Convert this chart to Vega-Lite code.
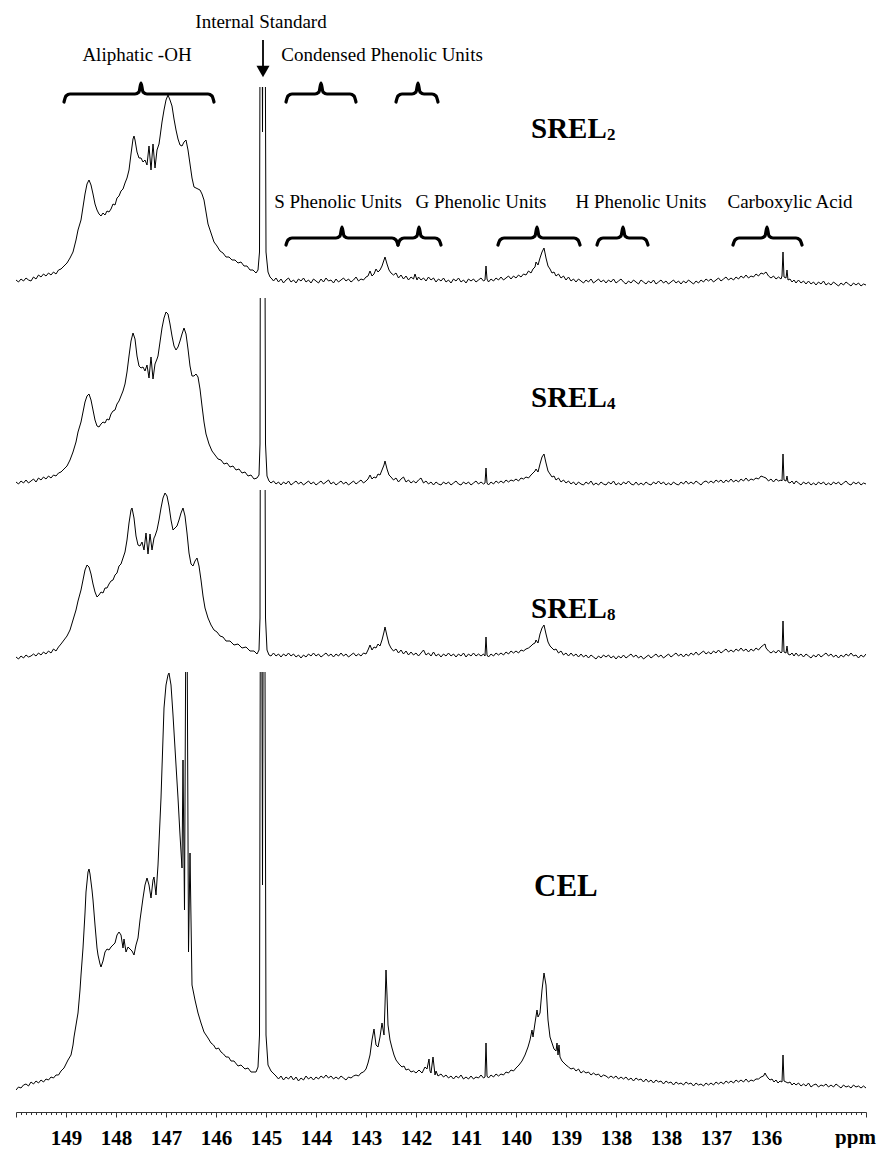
{
"$schema": "https://vega.github.io/schema/vega-lite/v6.json",
"padding": {"left": 15, "right": 12, "top": 0, "bottom": 0},
"bounds": "flush",
"spacing": 0,
"background": "white",
"config": {"view": {"stroke": null}, "font": "Liberation Serif"},
"datasets": {
"srel2": [
{"x":150,"y":2},{"x":149.95,"y":0},{"x":149.9,"y":3},{"x":149.85,"y":1},{"x":149.8,"y":4},{"x":149.75,"y":2},{"x":149.7,"y":1},{"x":149.65,"y":5},{"x":149.6,"y":3},{"x":149.55,"y":7},{"x":149.5,"y":5},{"x":149.45,"y":8},{"x":149.4,"y":6},{"x":149.35,"y":9},{"x":149.3,"y":7},{"x":149.25,"y":10},{"x":149.2,"y":8},{"x":149.15,"y":12},{"x":149.1,"y":13},{"x":149.04,"y":16},{"x":148.98,"y":19},{"x":148.92,"y":24},{"x":148.86,"y":30},{"x":148.8,"y":42},{"x":148.76,"y":52},{"x":148.7,"y":62},{"x":148.66,"y":75},{"x":148.62,"y":88},{"x":148.58,"y":98},{"x":148.54,"y":102},{"x":148.5,"y":97},{"x":148.46,"y":88},{"x":148.42,"y":78},{"x":148.38,"y":72},{"x":148.34,"y":68},{"x":148.3,"y":66},{"x":148.26,"y":69},{"x":148.22,"y":67},{"x":148.18,"y":71},{"x":148.14,"y":70},{"x":148.1,"y":73},{"x":148.06,"y":78},{"x":148.02,"y":77},{"x":147.98,"y":84},{"x":147.94,"y":86},{"x":147.9,"y":91},{"x":147.86,"y":93},{"x":147.82,"y":99},{"x":147.78,"y":104},{"x":147.74,"y":112},{"x":147.7,"y":128},{"x":147.66,"y":143},{"x":147.64,"y":146},{"x":147.62,"y":142},{"x":147.58,"y":130},{"x":147.54,"y":124},{"x":147.5,"y":124},{"x":147.46,"y":120},{"x":147.42,"y":122},{"x":147.38,"y":117},{"x":147.34,"y":136},{"x":147.3,"y":112},{"x":147.26,"y":138},{"x":147.22,"y":114},{"x":147.18,"y":132},{"x":147.14,"y":138},{"x":147.12,"y":145},{"x":147.08,"y":160},{"x":147.04,"y":172},{"x":147,"y":182},{"x":146.96,"y":187},{"x":146.92,"y":182},{"x":146.88,"y":176},{"x":146.84,"y":163},{"x":146.8,"y":152},{"x":146.76,"y":143},{"x":146.72,"y":137},{"x":146.68,"y":136},{"x":146.64,"y":140},{"x":146.6,"y":142},{"x":146.56,"y":132},{"x":146.52,"y":118},{"x":146.48,"y":104},{"x":146.44,"y":95},{"x":146.4,"y":94},{"x":146.36,"y":93},{"x":146.32,"y":92},{"x":146.28,"y":88},{"x":146.24,"y":82},{"x":146.2,"y":70},{"x":146.16,"y":58},{"x":146.1,"y":49},{"x":146.04,"y":40},{"x":145.98,"y":36},{"x":145.92,"y":31},{"x":145.86,"y":29},{"x":145.8,"y":25},{"x":145.74,"y":25},{"x":145.68,"y":22},{"x":145.62,"y":22},{"x":145.56,"y":19},{"x":145.5,"y":20},{"x":145.44,"y":16},{"x":145.38,"y":16},{"x":145.32,"y":12},{"x":145.26,"y":12},{"x":145.2,"y":9},{"x":145.16,"y":12},{"x":145.13,"y":30},{"x":145.1,"y":600},{"x":145.07,"y":150},{"x":145.04,"y":600},{"x":145,"y":30},{"x":144.96,"y":10},{"x":144.92,"y":5},{"x":144.88,"y":3},
{"x":144.85,"y":1},{"x":144.8,"y":4},{"x":144.75,"y":0},{"x":144.7,"y":3},{"x":144.65,"y":-1},{"x":144.6,"y":2},{"x":144.55,"y":4},{"x":144.5,"y":0},{"x":144.45,"y":2},{"x":144.4,"y":-1},{"x":144.35,"y":3},{"x":144.3,"y":1},{"x":144.25,"y":4},{"x":144.2,"y":0},{"x":144.15,"y":2},{"x":144.1,"y":-1},{"x":144.05,"y":3},{"x":144,"y":1},{"x":143.95,"y":-1},{"x":143.9,"y":3},{"x":143.85,"y":0},{"x":143.8,"y":4},{"x":143.75,"y":1},{"x":143.7,"y":2},{"x":143.65,"y":-1},{"x":143.6,"y":3},{"x":143.55,"y":0},{"x":143.5,"y":2},{"x":143.45,"y":4},{"x":143.4,"y":1},{"x":143.35,"y":3},{"x":143.3,"y":0},{"x":143.25,"y":2},{"x":143.2,"y":5},{"x":143.15,"y":1},{"x":143.1,"y":3},{"x":143.05,"y":2},{"x":143,"y":5},{"x":142.96,"y":6},{"x":142.92,"y":11},{"x":142.88,"y":6},{"x":142.84,"y":8},{"x":142.8,"y":13},{"x":142.76,"y":10},{"x":142.72,"y":12},{"x":142.68,"y":16},{"x":142.64,"y":22},{"x":142.62,"y":25},{"x":142.58,"y":18},{"x":142.54,"y":12},{"x":142.5,"y":9},{"x":142.45,"y":7},{"x":142.4,"y":9},{"x":142.35,"y":4},{"x":142.3,"y":7},{"x":142.25,"y":3},{"x":142.2,"y":6},{"x":142.15,"y":2},{"x":142.1,"y":5},{"x":142.05,"y":3},{"x":142.02,"y":8},{"x":141.98,"y":2},{"x":141.95,"y":5},{"x":141.9,"y":2},{"x":141.85,"y":4},{"x":141.8,"y":1},{"x":141.75,"y":5},{"x":141.7,"y":2},{"x":141.65,"y":4},{"x":141.6,"y":0},{"x":141.55,"y":3},{"x":141.5,"y":1},{"x":141.45,"y":4},{"x":141.4,"y":0},{"x":141.35,"y":2},{"x":141.3,"y":-1},{"x":141.25,"y":3},{"x":141.2,"y":1},{"x":141.15,"y":4},{"x":141.1,"y":0},{"x":141.05,"y":2},{"x":141,"y":-1},{"x":140.95,"y":3},{"x":140.9,"y":1},{"x":140.85,"y":3},{"x":140.8,"y":0},{"x":140.75,"y":2},{"x":140.7,"y":4},{"x":140.65,"y":1},{"x":140.62,"y":2},{"x":140.6,"y":16},{"x":140.58,"y":3},{"x":140.55,"y":0},{"x":140.5,"y":3},{"x":140.45,"y":1},{"x":140.4,"y":4},{"x":140.35,"y":2},{"x":140.3,"y":5},{"x":140.25,"y":2},{"x":140.2,"y":4},{"x":140.15,"y":6},{"x":140.1,"y":3},{"x":140.05,"y":6},{"x":140,"y":4},{"x":139.95,"y":7},{"x":139.9,"y":5},{"x":139.85,"y":8},{"x":139.8,"y":7},{"x":139.75,"y":11},{"x":139.7,"y":9},{"x":139.66,"y":13},{"x":139.62,"y":15},{"x":139.6,"y":20},{"x":139.56,"y":17},{"x":139.52,"y":24},{"x":139.48,"y":30},{"x":139.44,"y":34},{"x":139.4,"y":24},{"x":139.36,"y":16},{"x":139.32,"y":13},{"x":139.28,"y":9},{"x":139.24,"y":10},{"x":139.2,"y":6},{"x":139.15,"y":8},{"x":139.1,"y":4},{"x":139.05,"y":6},{"x":139,"y":2},{"x":138.95,"y":5},{"x":138.9,"y":1},{"x":138.85,"y":3},{"x":138.8,"y":0},{"x":138.75,"y":3},{"x":138.7,"y":1},{"x":138.65,"y":-1},{"x":138.6,"y":2},{"x":138.55,"y":0},{"x":138.5,"y":3},{"x":138.45,"y":-1},{"x":138.4,"y":1},{"x":138.35,"y":3},{"x":138.3,"y":0},{"x":138.25,"y":2},{"x":138.2,"y":-1},{"x":138.15,"y":2},{"x":138.1,"y":0},{"x":138.05,"y":3},{"x":138,"y":-1},{"x":137.95,"y":1},{"x":137.9,"y":3},{"x":137.85,"y":0},{"x":137.8,"y":-2},{"x":137.75,"y":1},{"x":137.7,"y":-1},{"x":137.65,"y":2},{"x":137.6,"y":0},{"x":137.55,"y":-2},{"x":137.5,"y":2},{"x":137.45,"y":0},{"x":137.4,"y":-2},{"x":137.35,"y":1},{"x":137.3,"y":-1},{"x":137.25,"y":2},{"x":137.2,"y":-2},{"x":137.15,"y":0},{"x":137.1,"y":2},{"x":137.05,"y":-1},{"x":137,"y":1},{"x":136.95,"y":-2},{"x":136.9,"y":0},{"x":136.85,"y":2},{"x":136.8,"y":-1},{"x":136.75,"y":1},{"x":136.7,"y":-2},{"x":136.65,"y":1},{"x":136.6,"y":-1},{"x":136.55,"y":2},{"x":136.5,"y":0},{"x":136.45,"y":-2},{"x":136.4,"y":1},{"x":136.35,"y":-1},{"x":136.3,"y":2},{"x":136.25,"y":0},{"x":136.2,"y":3},{"x":136.15,"y":1},{"x":136.1,"y":3},{"x":136.05,"y":0},{"x":136,"y":2},{"x":135.95,"y":4},{"x":135.9,"y":1},{"x":135.85,"y":3},{"x":135.8,"y":5},{"x":135.75,"y":2},{"x":135.7,"y":4},{"x":135.65,"y":2},{"x":135.6,"y":5},{"x":135.55,"y":3},{"x":135.5,"y":6},{"x":135.45,"y":4},{"x":135.4,"y":7},{"x":135.35,"y":4},{"x":135.3,"y":6},{"x":135.25,"y":5},{"x":135.2,"y":8},{"x":135.15,"y":6},{"x":135.1,"y":9},{"x":135.05,"y":8},{"x":135,"y":10},{"x":134.95,"y":6},{"x":134.9,"y":4},{"x":134.85,"y":6},{"x":134.8,"y":3},{"x":134.75,"y":5},{"x":134.7,"y":3},{"x":134.68,"y":6},{"x":134.66,"y":30},{"x":134.64,"y":5},{"x":134.6,"y":4},{"x":134.58,"y":12},{"x":134.56,"y":2},{"x":134.52,"y":3},{"x":134.48,"y":0},{"x":134.44,"y":2},{"x":134.4,"y":-1},{"x":134.35,"y":2},{"x":134.3,"y":-1},{"x":134.25,"y":1},{"x":134.2,"y":-2},{"x":134.15,"y":1},{"x":134.1,"y":-2},{"x":134.05,"y":0},{"x":134,"y":-3},{"x":133.95,"y":0},{"x":133.9,"y":-2},{"x":133.85,"y":1},{"x":133.8,"y":-3},{"x":133.75,"y":-1},{"x":133.7,"y":-3},{"x":133.65,"y":0},{"x":133.6,"y":-2},{"x":133.55,"y":-4},{"x":133.5,"y":-1},{"x":133.45,"y":-3},{"x":133.4,"y":0},{"x":133.35,"y":-2},{"x":133.3,"y":-4},{"x":133.25,"y":-1},{"x":133.2,"y":-3},{"x":133.15,"y":-1},{"x":133.1,"y":-4},{"x":133.05,"y":-2},{"x":133,"y":-3}
],
"srel4": [
{"x":150,"y":2},{"x":149.95,"y":0},{"x":149.9,"y":3},{"x":149.85,"y":1},{"x":149.8,"y":4},{"x":149.75,"y":1},{"x":149.7,"y":3},{"x":149.65,"y":5},{"x":149.6,"y":2},{"x":149.55,"y":6},{"x":149.5,"y":4},{"x":149.45,"y":7},{"x":149.4,"y":5},{"x":149.35,"y":8},{"x":149.3,"y":6},{"x":149.25,"y":9},{"x":149.2,"y":8},{"x":149.15,"y":11},{"x":149.1,"y":12},{"x":149.04,"y":15},{"x":148.98,"y":18},{"x":148.92,"y":24},{"x":148.86,"y":32},{"x":148.8,"y":42},{"x":148.76,"y":52},{"x":148.7,"y":62},{"x":148.66,"y":72},{"x":148.62,"y":82},{"x":148.58,"y":88},{"x":148.54,"y":90},{"x":148.5,"y":84},{"x":148.46,"y":74},{"x":148.42,"y":64},{"x":148.38,"y":58},{"x":148.34,"y":57},{"x":148.3,"y":60},{"x":148.26,"y":62},{"x":148.22,"y":61},{"x":148.18,"y":65},{"x":148.14,"y":64},{"x":148.1,"y":70},{"x":148.06,"y":73},{"x":148.02,"y":74},{"x":147.98,"y":80},{"x":147.94,"y":83},{"x":147.9,"y":88},{"x":147.86,"y":93},{"x":147.82,"y":100},{"x":147.78,"y":112},{"x":147.74,"y":128},{"x":147.7,"y":143},{"x":147.66,"y":151},{"x":147.62,"y":145},{"x":147.58,"y":128},{"x":147.54,"y":118},{"x":147.5,"y":116},{"x":147.46,"y":117},{"x":147.42,"y":113},{"x":147.38,"y":119},{"x":147.34,"y":106},{"x":147.3,"y":127},{"x":147.26,"y":105},{"x":147.22,"y":120},{"x":147.18,"y":125},{"x":147.16,"y":128},{"x":147.12,"y":142},{"x":147.08,"y":156},{"x":147.04,"y":166},{"x":147,"y":172},{"x":146.96,"y":170},{"x":146.92,"y":160},{"x":146.88,"y":148},{"x":146.84,"y":138},{"x":146.8,"y":134},{"x":146.76,"y":137},{"x":146.72,"y":143},{"x":146.68,"y":150},{"x":146.64,"y":156},{"x":146.6,"y":150},{"x":146.56,"y":135},{"x":146.52,"y":118},{"x":146.48,"y":108},{"x":146.44,"y":108},{"x":146.4,"y":110},{"x":146.36,"y":107},{"x":146.32,"y":95},{"x":146.28,"y":78},{"x":146.24,"y":62},{"x":146.2,"y":50},{"x":146.14,"y":40},{"x":146.08,"y":33},{"x":146.02,"y":29},{"x":145.96,"y":25},{"x":145.9,"y":24},{"x":145.84,"y":20},{"x":145.78,"y":21},{"x":145.72,"y":17},{"x":145.66,"y":18},{"x":145.6,"y":14},{"x":145.54,"y":15},{"x":145.48,"y":11},{"x":145.42,"y":12},{"x":145.36,"y":8},{"x":145.3,"y":9},{"x":145.24,"y":5},{"x":145.18,"y":6},{"x":145.14,"y":9},{"x":145.12,"y":40},{"x":145.1,"y":600},{"x":145.07,"y":200},{"x":145.04,"y":600},{"x":145.01,"y":40},{"x":144.98,"y":8},{"x":144.94,"y":3},
{"x":144.9,"y":1},{"x":144.85,"y":3},{"x":144.8,"y":0},{"x":144.75,"y":2},{"x":144.7,"y":-1},{"x":144.65,"y":2},{"x":144.6,"y":0},{"x":144.55,"y":3},{"x":144.5,"y":-1},{"x":144.45,"y":1},{"x":144.4,"y":3},{"x":144.35,"y":0},{"x":144.3,"y":2},{"x":144.25,"y":-1},{"x":144.2,"y":1},{"x":144.15,"y":3},{"x":144.1,"y":0},{"x":144.05,"y":2},{"x":144,"y":-1},{"x":143.95,"y":1},{"x":143.9,"y":3},{"x":143.85,"y":0},{"x":143.8,"y":2},{"x":143.75,"y":4},{"x":143.7,"y":0},{"x":143.65,"y":2},{"x":143.6,"y":-1},{"x":143.55,"y":1},{"x":143.5,"y":3},{"x":143.45,"y":0},{"x":143.4,"y":2},{"x":143.35,"y":-1},{"x":143.3,"y":1},{"x":143.25,"y":3},{"x":143.2,"y":0},{"x":143.15,"y":2},{"x":143.1,"y":4},{"x":143.05,"y":1},{"x":143,"y":3},{"x":142.96,"y":5},{"x":142.92,"y":9},{"x":142.88,"y":5},{"x":142.84,"y":7},{"x":142.8,"y":6},{"x":142.76,"y":10},{"x":142.72,"y":9},{"x":142.68,"y":14},{"x":142.64,"y":19},{"x":142.62,"y":23},{"x":142.58,"y":15},{"x":142.54,"y":9},{"x":142.5,"y":7},{"x":142.45,"y":4},{"x":142.4,"y":6},{"x":142.35,"y":2},{"x":142.3,"y":5},{"x":142.25,"y":7},{"x":142.2,"y":2},{"x":142.15,"y":4},{"x":142.1,"y":1},{"x":142.05,"y":3},{"x":142,"y":1},{"x":141.95,"y":4},{"x":141.9,"y":6},{"x":141.85,"y":1},{"x":141.8,"y":3},{"x":141.75,"y":0},{"x":141.7,"y":2},{"x":141.65,"y":-1},{"x":141.6,"y":2},{"x":141.55,"y":0},{"x":141.5,"y":-1},{"x":141.45,"y":2},{"x":141.4,"y":0},{"x":141.35,"y":2},{"x":141.3,"y":-1},{"x":141.25,"y":1},{"x":141.2,"y":3},{"x":141.15,"y":0},{"x":141.1,"y":-1},{"x":141.05,"y":2},{"x":141,"y":0},{"x":140.95,"y":2},{"x":140.9,"y":-1},{"x":140.85,"y":1},{"x":140.8,"y":3},{"x":140.75,"y":0},{"x":140.7,"y":2},{"x":140.65,"y":0},{"x":140.62,"y":1},{"x":140.6,"y":16},{"x":140.58,"y":1},{"x":140.55,"y":-1},{"x":140.5,"y":2},{"x":140.45,"y":0},{"x":140.4,"y":3},{"x":140.35,"y":1},{"x":140.3,"y":3},{"x":140.25,"y":1},{"x":140.2,"y":4},{"x":140.15,"y":2},{"x":140.1,"y":4},{"x":140.05,"y":3},{"x":140,"y":5},{"x":139.95,"y":3},{"x":139.9,"y":6},{"x":139.85,"y":5},{"x":139.8,"y":7},{"x":139.75,"y":6},{"x":139.7,"y":9},{"x":139.66,"y":11},{"x":139.62,"y":13},{"x":139.6,"y":15},{"x":139.56,"y":12},{"x":139.52,"y":20},{"x":139.48,"y":27},{"x":139.44,"y":30},{"x":139.4,"y":21},{"x":139.36,"y":13},{"x":139.32,"y":10},{"x":139.28,"y":7},{"x":139.24,"y":8},{"x":139.2,"y":4},{"x":139.15,"y":6},{"x":139.1,"y":2},{"x":139.05,"y":4},{"x":139,"y":1},{"x":138.95,"y":3},{"x":138.9,"y":0},{"x":138.85,"y":2},{"x":138.8,"y":-1},{"x":138.75,"y":2},{"x":138.7,"y":0},{"x":138.65,"y":-1},{"x":138.6,"y":2},{"x":138.55,"y":0},{"x":138.5,"y":3},{"x":138.45,"y":-1},{"x":138.4,"y":1},{"x":138.35,"y":-1},{"x":138.3,"y":2},{"x":138.25,"y":0},{"x":138.2,"y":-1},{"x":138.15,"y":2},{"x":138.1,"y":0},{"x":138.05,"y":3},{"x":138,"y":-1},{"x":137.95,"y":1},{"x":137.9,"y":-1},{"x":137.85,"y":2},{"x":137.8,"y":0},{"x":137.75,"y":3},{"x":137.7,"y":0},{"x":137.65,"y":-1},{"x":137.6,"y":2},{"x":137.55,"y":-1},{"x":137.5,"y":1},{"x":137.45,"y":-1},{"x":137.4,"y":2},{"x":137.35,"y":0},{"x":137.3,"y":-1},{"x":137.25,"y":2},{"x":137.2,"y":0},{"x":137.15,"y":3},{"x":137.1,"y":0},{"x":137.05,"y":2},{"x":137,"y":-1},{"x":136.95,"y":1},{"x":136.9,"y":-1},{"x":136.85,"y":2},{"x":136.8,"y":0},{"x":136.75,"y":-1},{"x":136.7,"y":2},{"x":136.65,"y":0},{"x":136.6,"y":3},{"x":136.55,"y":0},{"x":136.5,"y":2},{"x":136.45,"y":0},{"x":136.4,"y":3},{"x":136.35,"y":1},{"x":136.3,"y":-1},{"x":136.25,"y":2},{"x":136.2,"y":3},{"x":136.15,"y":1},{"x":136.1,"y":3},{"x":136.05,"y":1},{"x":136,"y":4},{"x":135.95,"y":2},{"x":135.9,"y":4},{"x":135.85,"y":1},{"x":135.8,"y":4},{"x":135.75,"y":2},{"x":135.7,"y":5},{"x":135.65,"y":2},{"x":135.6,"y":4},{"x":135.55,"y":2},{"x":135.5,"y":5},{"x":135.45,"y":3},{"x":135.4,"y":6},{"x":135.35,"y":3},{"x":135.3,"y":5},{"x":135.25,"y":4},{"x":135.2,"y":6},{"x":135.15,"y":5},{"x":135.1,"y":8},{"x":135.05,"y":7},{"x":135,"y":6},{"x":134.95,"y":3},{"x":134.9,"y":5},{"x":134.85,"y":2},{"x":134.8,"y":5},{"x":134.75,"y":3},{"x":134.7,"y":4},{"x":134.68,"y":3},{"x":134.66,"y":30},{"x":134.64,"y":4},{"x":134.6,"y":3},{"x":134.58,"y":8},{"x":134.56,"y":2},{"x":134.52,"y":1},{"x":134.48,"y":3},{"x":134.44,"y":0},{"x":134.4,"y":3},{"x":134.35,"y":1},{"x":134.3,"y":-1},{"x":134.25,"y":2},{"x":134.2,"y":0},{"x":134.15,"y":2},{"x":134.1,"y":-1},{"x":134.05,"y":1},{"x":134,"y":-1},{"x":133.95,"y":2},{"x":133.9,"y":0},{"x":133.85,"y":2},{"x":133.8,"y":-1},{"x":133.75,"y":1},{"x":133.7,"y":-1},{"x":133.65,"y":2},{"x":133.6,"y":0},{"x":133.55,"y":2},{"x":133.5,"y":-1},{"x":133.45,"y":1},{"x":133.4,"y":3},{"x":133.35,"y":0},{"x":133.3,"y":-1},{"x":133.25,"y":2},{"x":133.2,"y":0},{"x":133.15,"y":2},{"x":133.1,"y":-1},{"x":133.05,"y":1},{"x":133,"y":0}
],
"srel8": [
{"x":150,"y":1},{"x":149.95,"y":-1},{"x":149.9,"y":2},{"x":149.85,"y":0},{"x":149.8,"y":3},{"x":149.75,"y":1},{"x":149.7,"y":2},{"x":149.65,"y":4},{"x":149.6,"y":2},{"x":149.55,"y":5},{"x":149.5,"y":3},{"x":149.45,"y":6},{"x":149.4,"y":4},{"x":149.35,"y":7},{"x":149.3,"y":5},{"x":149.25,"y":9},{"x":149.2,"y":7},{"x":149.15,"y":11},{"x":149.1,"y":14},{"x":149.04,"y":18},{"x":148.98,"y":22},{"x":148.92,"y":28},{"x":148.86,"y":38},{"x":148.8,"y":48},{"x":148.76,"y":57},{"x":148.7,"y":68},{"x":148.66,"y":78},{"x":148.62,"y":88},{"x":148.58,"y":93},{"x":148.54,"y":91},{"x":148.5,"y":84},{"x":148.46,"y":74},{"x":148.42,"y":66},{"x":148.38,"y":61},{"x":148.34,"y":63},{"x":148.3,"y":66},{"x":148.26,"y":65},{"x":148.22,"y":70},{"x":148.18,"y":70},{"x":148.14,"y":74},{"x":148.1,"y":77},{"x":148.06,"y":78},{"x":148.02,"y":83},{"x":147.98,"y":85},{"x":147.94,"y":92},{"x":147.9,"y":94},{"x":147.86,"y":100},{"x":147.82,"y":106},{"x":147.78,"y":118},{"x":147.74,"y":135},{"x":147.7,"y":148},{"x":147.68,"y":150},{"x":147.64,"y":140},{"x":147.6,"y":122},{"x":147.56,"y":113},{"x":147.52,"y":112},{"x":147.48,"y":116},{"x":147.44,"y":108},{"x":147.4,"y":125},{"x":147.36,"y":104},{"x":147.32,"y":124},{"x":147.28,"y":108},{"x":147.24,"y":120},{"x":147.22,"y":122},{"x":147.18,"y":128},{"x":147.14,"y":138},{"x":147.1,"y":150},{"x":147.06,"y":160},{"x":147.02,"y":165},{"x":146.98,"y":162},{"x":146.94,"y":152},{"x":146.9,"y":138},{"x":146.86,"y":128},{"x":146.82,"y":130},{"x":146.78,"y":132},{"x":146.74,"y":138},{"x":146.7,"y":145},{"x":146.66,"y":150},{"x":146.62,"y":142},{"x":146.58,"y":125},{"x":146.54,"y":105},{"x":146.5,"y":94},{"x":146.46,"y":92},{"x":146.42,"y":97},{"x":146.38,"y":100},{"x":146.34,"y":92},{"x":146.3,"y":78},{"x":146.26,"y":62},{"x":146.22,"y":50},{"x":146.16,"y":40},{"x":146.1,"y":33},{"x":146.04,"y":28},{"x":145.98,"y":26},{"x":145.92,"y":22},{"x":145.86,"y":21},{"x":145.8,"y":17},{"x":145.72,"y":17},{"x":145.64,"y":13},{"x":145.56,"y":14},{"x":145.48,"y":10},{"x":145.4,"y":11},{"x":145.32,"y":7},{"x":145.24,"y":7},{"x":145.18,"y":4},{"x":145.14,"y":8},{"x":145.12,"y":40},{"x":145.1,"y":600},{"x":145.07,"y":200},{"x":145.04,"y":600},{"x":145.01,"y":40},{"x":144.98,"y":8},{"x":144.94,"y":3},
{"x":144.9,"y":2},{"x":144.85,"y":5},{"x":144.8,"y":2},{"x":144.75,"y":4},{"x":144.7,"y":1},{"x":144.65,"y":4},{"x":144.6,"y":2},{"x":144.55,"y":5},{"x":144.5,"y":2},{"x":144.45,"y":4},{"x":144.4,"y":1},{"x":144.35,"y":3},{"x":144.3,"y":0},{"x":144.25,"y":3},{"x":144.2,"y":1},{"x":144.15,"y":4},{"x":144.1,"y":2},{"x":144.05,"y":5},{"x":144,"y":2},{"x":143.95,"y":4},{"x":143.9,"y":1},{"x":143.85,"y":3},{"x":143.8,"y":5},{"x":143.75,"y":2},{"x":143.7,"y":4},{"x":143.65,"y":1},{"x":143.6,"y":4},{"x":143.55,"y":2},{"x":143.5,"y":5},{"x":143.45,"y":2},{"x":143.4,"y":4},{"x":143.35,"y":1},{"x":143.3,"y":3},{"x":143.25,"y":5},{"x":143.2,"y":2},{"x":143.15,"y":4},{"x":143.1,"y":2},{"x":143.05,"y":5},{"x":143,"y":4},{"x":142.96,"y":8},{"x":142.92,"y":13},{"x":142.88,"y":8},{"x":142.84,"y":11},{"x":142.8,"y":10},{"x":142.76,"y":14},{"x":142.72,"y":12},{"x":142.68,"y":18},{"x":142.64,"y":26},{"x":142.62,"y":31},{"x":142.58,"y":22},{"x":142.54,"y":14},{"x":142.5,"y":10},{"x":142.45,"y":7},{"x":142.4,"y":9},{"x":142.35,"y":5},{"x":142.3,"y":8},{"x":142.25,"y":4},{"x":142.2,"y":7},{"x":142.15,"y":3},{"x":142.1,"y":6},{"x":142.05,"y":3},{"x":142,"y":5},{"x":141.95,"y":2},{"x":141.9,"y":5},{"x":141.85,"y":8},{"x":141.8,"y":3},{"x":141.75,"y":5},{"x":141.7,"y":2},{"x":141.65,"y":6},{"x":141.6,"y":2},{"x":141.55,"y":4},{"x":141.5,"y":1},{"x":141.45,"y":4},{"x":141.4,"y":2},{"x":141.35,"y":5},{"x":141.3,"y":2},{"x":141.25,"y":4},{"x":141.2,"y":1},{"x":141.15,"y":4},{"x":141.1,"y":2},{"x":141.05,"y":5},{"x":141,"y":1},{"x":140.95,"y":4},{"x":140.9,"y":2},{"x":140.85,"y":5},{"x":140.8,"y":2},{"x":140.75,"y":4},{"x":140.7,"y":2},{"x":140.65,"y":4},{"x":140.62,"y":2},{"x":140.6,"y":21},{"x":140.58,"y":3},{"x":140.55,"y":1},{"x":140.5,"y":4},{"x":140.45,"y":2},{"x":140.4,"y":5},{"x":140.35,"y":3},{"x":140.3,"y":5},{"x":140.25,"y":3},{"x":140.2,"y":6},{"x":140.15,"y":4},{"x":140.1,"y":7},{"x":140.05,"y":5},{"x":140,"y":7},{"x":139.95,"y":5},{"x":139.9,"y":8},{"x":139.85,"y":7},{"x":139.8,"y":9},{"x":139.75,"y":10},{"x":139.7,"y":12},{"x":139.66,"y":14},{"x":139.62,"y":15},{"x":139.6,"y":18},{"x":139.56,"y":15},{"x":139.52,"y":24},{"x":139.48,"y":30},{"x":139.44,"y":33},{"x":139.4,"y":24},{"x":139.36,"y":16},{"x":139.32,"y":12},{"x":139.28,"y":10},{"x":139.24,"y":8},{"x":139.2,"y":9},{"x":139.15,"y":5},{"x":139.1,"y":7},{"x":139.05,"y":3},{"x":139,"y":5},{"x":138.95,"y":2},{"x":138.9,"y":5},{"x":138.85,"y":2},{"x":138.8,"y":4},{"x":138.75,"y":1},{"x":138.7,"y":4},{"x":138.65,"y":1},{"x":138.6,"y":3},{"x":138.55,"y":0},{"x":138.5,"y":3},{"x":138.45,"y":1},{"x":138.4,"y":-1},{"x":138.35,"y":2},{"x":138.3,"y":0},{"x":138.25,"y":3},{"x":138.2,"y":1},{"x":138.15,"y":3},{"x":138.1,"y":0},{"x":138.05,"y":2},{"x":138,"y":-1},{"x":137.95,"y":2},{"x":137.9,"y":0},{"x":137.85,"y":3},{"x":137.8,"y":0},{"x":137.75,"y":2},{"x":137.7,"y":4},{"x":137.65,"y":1},{"x":137.6,"y":3},{"x":137.55,"y":0},{"x":137.5,"y":2},{"x":137.45,"y":-1},{"x":137.4,"y":1},{"x":137.35,"y":3},{"x":137.3,"y":0},{"x":137.25,"y":2},{"x":137.2,"y":4},{"x":137.15,"y":1},{"x":137.1,"y":3},{"x":137.05,"y":0},{"x":137,"y":2},{"x":136.95,"y":4},{"x":136.9,"y":1},{"x":136.85,"y":3},{"x":136.8,"y":5},{"x":136.75,"y":2},{"x":136.7,"y":4},{"x":136.65,"y":1},{"x":136.6,"y":4},{"x":136.55,"y":2},{"x":136.5,"y":5},{"x":136.45,"y":3},{"x":136.4,"y":6},{"x":136.35,"y":3},{"x":136.3,"y":5},{"x":136.25,"y":7},{"x":136.2,"y":4},{"x":136.15,"y":6},{"x":136.1,"y":4},{"x":136.05,"y":7},{"x":136,"y":5},{"x":135.95,"y":8},{"x":135.9,"y":5},{"x":135.85,"y":7},{"x":135.8,"y":9},{"x":135.75,"y":6},{"x":135.7,"y":8},{"x":135.65,"y":6},{"x":135.6,"y":9},{"x":135.55,"y":7},{"x":135.5,"y":10},{"x":135.45,"y":7},{"x":135.4,"y":9},{"x":135.35,"y":6},{"x":135.3,"y":9},{"x":135.25,"y":7},{"x":135.2,"y":10},{"x":135.15,"y":8},{"x":135.1,"y":11},{"x":135.05,"y":13},{"x":135.02,"y":14},{"x":135,"y":10},{"x":134.95,"y":7},{"x":134.9,"y":5},{"x":134.85,"y":7},{"x":134.8,"y":5},{"x":134.75,"y":8},{"x":134.7,"y":5},{"x":134.68,"y":6},{"x":134.66,"y":37},{"x":134.64,"y":6},{"x":134.6,"y":5},{"x":134.58,"y":12},{"x":134.56,"y":4},{"x":134.52,"y":3},{"x":134.48,"y":5},{"x":134.44,"y":2},{"x":134.4,"y":5},{"x":134.35,"y":2},{"x":134.3,"y":4},{"x":134.25,"y":1},{"x":134.2,"y":4},{"x":134.15,"y":2},{"x":134.1,"y":0},{"x":134.05,"y":3},{"x":134,"y":1},{"x":133.95,"y":4},{"x":133.9,"y":1},{"x":133.85,"y":3},{"x":133.8,"y":5},{"x":133.75,"y":2},{"x":133.7,"y":4},{"x":133.65,"y":1},{"x":133.6,"y":3},{"x":133.55,"y":0},{"x":133.5,"y":3},{"x":133.45,"y":1},{"x":133.4,"y":4},{"x":133.35,"y":2},{"x":133.3,"y":5},{"x":133.25,"y":2},{"x":133.2,"y":3},{"x":133.15,"y":0},{"x":133.1,"y":3},{"x":133.05,"y":1},{"x":133,"y":4}
],
"cel": [
{"x":150,"y":-5},{"x":149.95,"y":-2},{"x":149.9,"y":-3},{"x":149.85,"y":0},{"x":149.8,"y":1},{"x":149.75,"y":-1},{"x":149.7,"y":3},{"x":149.65,"y":1},{"x":149.6,"y":4},{"x":149.55,"y":2},{"x":149.5,"y":5},{"x":149.45,"y":3},{"x":149.4,"y":6},{"x":149.35,"y":5},{"x":149.3,"y":8},{"x":149.25,"y":7},{"x":149.2,"y":10},{"x":149.15,"y":10},{"x":149.1,"y":14},{"x":149.04,"y":17},{"x":149,"y":21},{"x":148.96,"y":25},{"x":148.9,"y":30},{"x":148.86,"y":40},{"x":148.84,"y":48},{"x":148.8,"y":60},{"x":148.76,"y":72},{"x":148.72,"y":95},{"x":148.7,"y":110},{"x":148.66,"y":137},{"x":148.62,"y":172},{"x":148.6,"y":193},{"x":148.56,"y":213},{"x":148.54,"y":216},{"x":148.52,"y":211},{"x":148.48,"y":195},{"x":148.46,"y":185},{"x":148.42,"y":160},{"x":148.38,"y":137},{"x":148.36,"y":130},{"x":148.32,"y":121},{"x":148.3,"y":118},{"x":148.26,"y":124},{"x":148.22,"y":133},{"x":148.18,"y":136},{"x":148.14,"y":135},{"x":148.1,"y":138},{"x":148.06,"y":140},{"x":148.02,"y":142},{"x":147.98,"y":150},{"x":147.94,"y":153},{"x":147.9,"y":150},{"x":147.86,"y":137},{"x":147.84,"y":146},{"x":147.8,"y":133},{"x":147.76,"y":138},{"x":147.72,"y":136},{"x":147.68,"y":134},{"x":147.64,"y":130},{"x":147.6,"y":140},{"x":147.56,"y":147},{"x":147.52,"y":165},{"x":147.46,"y":187},{"x":147.42,"y":200},{"x":147.38,"y":207},{"x":147.34,"y":200},{"x":147.3,"y":187},{"x":147.26,"y":205},{"x":147.24,"y":208},{"x":147.2,"y":190},{"x":147.16,"y":220},{"x":147.1,"y":287},{"x":147.04,"y":377},{"x":147,"y":400},{"x":146.96,"y":410},{"x":146.94,"y":412},{"x":146.9,"y":400},{"x":146.86,"y":370},{"x":146.8,"y":320},{"x":146.76,"y":287},{"x":146.72,"y":250},{"x":146.68,"y":217},{"x":146.66,"y":325},{"x":146.63,"y":175},{"x":146.59,"y":600},{"x":146.55,"y":133},{"x":146.52,"y":232},{"x":146.48,"y":100},{"x":146.42,"y":85},{"x":146.36,"y":72},{"x":146.3,"y":62},{"x":146.24,"y":53},{"x":146.16,"y":47},{"x":146.1,"y":42},{"x":146.05,"y":40},{"x":146,"y":36},{"x":145.95,"y":37},{"x":145.9,"y":33},{"x":145.85,"y":31},{"x":145.8,"y":28},{"x":145.75,"y":28},{"x":145.7,"y":24},{"x":145.64,"y":24},{"x":145.56,"y":19},{"x":145.5,"y":20},{"x":145.42,"y":16},{"x":145.36,"y":17},{"x":145.3,"y":13},{"x":145.2,"y":13},{"x":145.16,"y":18},{"x":145.13,"y":50},{"x":145.1,"y":800},{"x":145.07,"y":200},{"x":145.04,"y":800},{"x":145,"y":50},{"x":144.96,"y":20},{"x":144.9,"y":14},{"x":144.86,"y":12},
{"x":144.8,"y":9},{"x":144.75,"y":6},{"x":144.7,"y":9},{"x":144.65,"y":5},{"x":144.6,"y":8},{"x":144.55,"y":6},{"x":144.5,"y":9},{"x":144.45,"y":5},{"x":144.4,"y":8},{"x":144.35,"y":4},{"x":144.3,"y":7},{"x":144.25,"y":5},{"x":144.2,"y":9},{"x":144.15,"y":6},{"x":144.1,"y":8},{"x":144.05,"y":5},{"x":144,"y":8},{"x":143.95,"y":6},{"x":143.9,"y":9},{"x":143.85,"y":7},{"x":143.8,"y":10},{"x":143.75,"y":7},{"x":143.7,"y":9},{"x":143.65,"y":6},{"x":143.6,"y":8},{"x":143.55,"y":6},{"x":143.5,"y":9},{"x":143.45,"y":7},{"x":143.4,"y":5},{"x":143.35,"y":8},{"x":143.3,"y":7},{"x":143.25,"y":9},{"x":143.2,"y":10},{"x":143.15,"y":9},{"x":143.1,"y":12},{"x":143.05,"y":13},{"x":143,"y":16},{"x":142.96,"y":22},{"x":142.92,"y":30},{"x":142.88,"y":45},{"x":142.84,"y":56},{"x":142.8,"y":40},{"x":142.76,"y":38},{"x":142.72,"y":48},{"x":142.68,"y":62},{"x":142.66,"y":56},{"x":142.64,"y":50},{"x":142.62,"y":80},{"x":142.6,"y":115},{"x":142.58,"y":90},{"x":142.56,"y":60},{"x":142.52,"y":45},{"x":142.48,"y":37},{"x":142.44,"y":30},{"x":142.4,"y":25},{"x":142.34,"y":21},{"x":142.28,"y":18},{"x":142.24,"y":19},{"x":142.2,"y":15},{"x":142.15,"y":16},{"x":142.1,"y":13},{"x":142.05,"y":14},{"x":142,"y":12},{"x":141.94,"y":15},{"x":141.88,"y":12},{"x":141.82,"y":18},{"x":141.78,"y":16},{"x":141.74,"y":26},{"x":141.72,"y":14},{"x":141.7,"y":12},{"x":141.66,"y":28},{"x":141.62,"y":10},{"x":141.6,"y":14},{"x":141.56,"y":9},{"x":141.5,"y":11},{"x":141.45,"y":8},{"x":141.4,"y":10},{"x":141.35,"y":7},{"x":141.3,"y":9},{"x":141.25,"y":6},{"x":141.2,"y":9},{"x":141.15,"y":7},{"x":141.1,"y":10},{"x":141.05,"y":6},{"x":141,"y":8},{"x":140.95,"y":6},{"x":140.9,"y":9},{"x":140.85,"y":6},{"x":140.8,"y":8},{"x":140.75,"y":7},{"x":140.7,"y":10},{"x":140.65,"y":7},{"x":140.62,"y":8},{"x":140.6,"y":42},{"x":140.58,"y":9},{"x":140.55,"y":7},{"x":140.5,"y":10},{"x":140.45,"y":8},{"x":140.4,"y":11},{"x":140.35,"y":9},{"x":140.3,"y":11},{"x":140.25,"y":10},{"x":140.2,"y":13},{"x":140.15,"y":12},{"x":140.1,"y":15},{"x":140.05,"y":14},{"x":140,"y":17},{"x":139.94,"y":20},{"x":139.88,"y":24},{"x":139.82,"y":30},{"x":139.76,"y":38},{"x":139.72,"y":45},{"x":139.68,"y":55},{"x":139.66,"y":48},{"x":139.62,"y":62},{"x":139.58,"y":75},{"x":139.56,"y":68},{"x":139.52,"y":72},{"x":139.48,"y":95},{"x":139.44,"y":112},{"x":139.4,"y":100},{"x":139.36,"y":65},{"x":139.32,"y":48},{"x":139.28,"y":42},{"x":139.24,"y":36},{"x":139.2,"y":34},{"x":139.18,"y":42},{"x":139.16,"y":30},{"x":139.14,"y":40},{"x":139.12,"y":28},{"x":139.08,"y":24},{"x":139.04,"y":22},{"x":139,"y":20},{"x":138.95,"y":18},{"x":138.9,"y":16},{"x":138.85,"y":17},{"x":138.8,"y":14},{"x":138.75,"y":16},{"x":138.7,"y":12},{"x":138.65,"y":14},{"x":138.6,"y":12},{"x":138.55,"y":13},{"x":138.5,"y":10},{"x":138.45,"y":12},{"x":138.4,"y":10},{"x":138.35,"y":11},{"x":138.3,"y":8},{"x":138.25,"y":10},{"x":138.2,"y":9},{"x":138.15,"y":7},{"x":138.1,"y":9},{"x":138.05,"y":7},{"x":138,"y":9},{"x":137.95,"y":6},{"x":137.9,"y":8},{"x":137.85,"y":6},{"x":137.8,"y":8},{"x":137.75,"y":5},{"x":137.7,"y":7},{"x":137.65,"y":4},{"x":137.6,"y":7},{"x":137.55,"y":5},{"x":137.5,"y":6},{"x":137.45,"y":3},{"x":137.4,"y":6},{"x":137.35,"y":3},{"x":137.3,"y":5},{"x":137.25,"y":2},{"x":137.2,"y":5},{"x":137.15,"y":3},{"x":137.1,"y":4},{"x":137.05,"y":1},{"x":137,"y":4},{"x":136.95,"y":2},{"x":136.9,"y":3},{"x":136.85,"y":0},{"x":136.8,"y":3},{"x":136.75,"y":1},{"x":136.7,"y":2},{"x":136.65,"y":0},{"x":136.6,"y":3},{"x":136.55,"y":1},{"x":136.5,"y":2},{"x":136.45,"y":-1},{"x":136.4,"y":2},{"x":136.35,"y":0},{"x":136.3,"y":1},{"x":136.25,"y":-1},{"x":136.2,"y":2},{"x":136.15,"y":0},{"x":136.1,"y":2},{"x":136.05,"y":0},{"x":136,"y":3},{"x":135.95,"y":1},{"x":135.9,"y":3},{"x":135.85,"y":1},{"x":135.8,"y":4},{"x":135.75,"y":2},{"x":135.7,"y":4},{"x":135.65,"y":2},{"x":135.6,"y":5},{"x":135.55,"y":3},{"x":135.5,"y":5},{"x":135.45,"y":3},{"x":135.4,"y":6},{"x":135.35,"y":3},{"x":135.3,"y":5},{"x":135.25,"y":4},{"x":135.2,"y":6},{"x":135.15,"y":6},{"x":135.1,"y":8},{"x":135.05,"y":9},{"x":135.02,"y":12},{"x":135,"y":10},{"x":134.96,"y":7},{"x":134.92,"y":5},{"x":134.88,"y":6},{"x":134.84,"y":3},{"x":134.8,"y":5},{"x":134.76,"y":2},{"x":134.72,"y":4},{"x":134.68,"y":3},{"x":134.66,"y":30},{"x":134.64,"y":4},{"x":134.6,"y":3},{"x":134.56,"y":2},{"x":134.52,"y":3},{"x":134.48,"y":0},{"x":134.44,"y":2},{"x":134.4,"y":0},{"x":134.35,"y":2},{"x":134.3,"y":-1},{"x":134.25,"y":1},{"x":134.2,"y":-1},{"x":134.15,"y":2},{"x":134.1,"y":-2},{"x":134.05,"y":0},{"x":134,"y":1},{"x":133.95,"y":-2},{"x":133.9,"y":0},{"x":133.85,"y":-1},{"x":133.8,"y":1},{"x":133.75,"y":-2},{"x":133.7,"y":0},{"x":133.65,"y":-2},{"x":133.6,"y":1},{"x":133.55,"y":-1},{"x":133.5,"y":-3},{"x":133.45,"y":0},{"x":133.4,"y":-2},{"x":133.35,"y":-1},{"x":133.3,"y":-3},{"x":133.25,"y":0},{"x":133.2,"y":-2},{"x":133.15,"y":-1},{"x":133.1,"y":-3},{"x":133.05,"y":-1},{"x":133,"y":-3}
]
},
"vconcat": [
{
"width": 850, "height": 87,
"layer": [
{"data": {"values": [
{"b":"ali","x":149.04,"y":-15},{"b":"ali","x":149.0,"y":-9},{"b":"ali","x":148.92,"y":-7},{"b":"ali","x":147.62,"y":-7},{"b":"ali","x":147.54,"y":-5},{"b":"ali","x":147.5,"y":4},{"b":"ali","x":147.46,"y":-5},{"b":"ali","x":147.38,"y":-7},{"b":"ali","x":146.16,"y":-7},{"b":"ali","x":146.08,"y":-9},{"b":"ali","x":146.04,"y":-15},
{"b":"con1","x":144.6,"y":-15},{"b":"con1","x":144.56,"y":-9},{"b":"con1","x":144.48,"y":-7},{"b":"con1","x":144.02,"y":-7},{"b":"con1","x":143.94,"y":-5},{"b":"con1","x":143.9,"y":4},{"b":"con1","x":143.86,"y":-5},{"b":"con1","x":143.78,"y":-7},{"b":"con1","x":143.32,"y":-7},{"b":"con1","x":143.24,"y":-9},{"b":"con1","x":143.2,"y":-15},
{"b":"con2","x":142.4,"y":-15},{"b":"con2","x":142.36,"y":-9},{"b":"con2","x":142.28,"y":-7},{"b":"con2","x":142.08,"y":-7},{"b":"con2","x":142.0,"y":-5},{"b":"con2","x":141.96,"y":4},{"b":"con2","x":141.92,"y":-5},{"b":"con2","x":141.84,"y":-7},{"b":"con2","x":141.68,"y":-7},{"b":"con2","x":141.6,"y":-9},{"b":"con2","x":141.56,"y":-15}
]},
"mark": {"type": "line", "interpolate": "monotone", "strokeWidth": 3.2, "color": "black", "strokeCap": "round"},
"encoding": {
"x": {"field": "x", "type": "quantitative", "scale": {"domain": [150, 133], "nice": false, "zero": false}, "axis": null},
"y": {"field": "y", "type": "quantitative", "scale": {"domain": [0, 87], "nice": false, "zero": false}, "axis": null},
"detail": {"field": "b"},
"order": {"field": "x", "sort": "descending"}
}},
{"data": {"values": [
{"t":"Internal Standard","x":145.1,"y":59},
{"t":"Aliphatic -OH","x":147.58,"y":26},
{"t":"Condensed Phenolic Units","x":142.68,"y":26}
]},
"mark": {"type": "text", "fontSize": 19, "align": "center", "baseline": "alphabetic", "color": "black", "font": "Liberation Serif"},
"encoding": {
"x": {"field": "x", "type": "quantitative", "scale": {"domain": [150, 133], "nice": false, "zero": false}, "axis": null},
"y": {"field": "y", "type": "quantitative", "scale": {"domain": [0, 87], "nice": false, "zero": false}, "axis": null},
"text": {"field": "t"}
}},
{"data": {"values": [{"x":145.06,"y":47,"y2":19,"yh":15.5}]},
"mark": {"type": "rule", "strokeWidth": 1.8, "color": "black"},
"encoding": {
"x": {"field": "x", "type": "quantitative", "scale": {"domain": [150, 133], "nice": false, "zero": false}, "axis": null},
"y": {"field": "y", "type": "quantitative", "scale": {"domain": [0, 87], "nice": false, "zero": false}, "axis": null},
"y2": {"field": "y2"}
}},
{"data": {"values": [{"x":145.06,"y":47,"y2":19,"yh":15.5}]},
"mark": {"type": "point", "shape": "triangle-down", "filled": true, "size": 170, "color": "black", "opacity": 1},
"encoding": {
"x": {"field": "x", "type": "quantitative", "scale": {"domain": [150, 133], "nice": false, "zero": false}, "axis": null},
"y": {"field": "yh", "type": "quantitative", "scale": {"domain": [0, 87], "nice": false, "zero": false}, "axis": null}
}}
]
},
{
"width": 850, "height": 211,
"layer": [
{"data": {"name": "srel2"},
"mark": {"type": "line", "strokeWidth": 1, "color": "black", "clip": true},
"encoding": {
"x": {"field": "x", "type": "quantitative", "scale": {"domain": [150, 133], "nice": false, "zero": false}, "axis": null},
"y": {"field": "y", "type": "quantitative", "scale": {"domain": [-16, 195], "nice": false, "zero": false}, "axis": null}
}},
{"data": {"values": [
{"b":"s","x":144.6,"y":37},{"b":"s","x":144.56,"y":42},{"b":"s","x":144.48,"y":44},{"b":"s","x":143.6,"y":44},{"b":"s","x":143.52,"y":46},{"b":"s","x":143.48,"y":55},{"b":"s","x":143.44,"y":46},{"b":"s","x":143.36,"y":44},{"b":"s","x":142.48,"y":44},{"b":"s","x":142.4,"y":42},{"b":"s","x":142.36,"y":37},
{"b":"g1","x":142.36,"y":37},{"b":"g1","x":142.32,"y":42},{"b":"g1","x":142.24,"y":44},{"b":"g1","x":142.06,"y":44},{"b":"g1","x":141.98,"y":46},{"b":"g1","x":141.94,"y":55},{"b":"g1","x":141.9,"y":46},{"b":"g1","x":141.82,"y":44},{"b":"g1","x":141.62,"y":44},{"b":"g1","x":141.54,"y":42},{"b":"g1","x":141.5,"y":37},
{"b":"g2","x":140.36,"y":37},{"b":"g2","x":140.32,"y":42},{"b":"g2","x":140.24,"y":44},{"b":"g2","x":139.7,"y":44},{"b":"g2","x":139.62,"y":46},{"b":"g2","x":139.58,"y":55},{"b":"g2","x":139.54,"y":46},{"b":"g2","x":139.46,"y":44},{"b":"g2","x":138.84,"y":44},{"b":"g2","x":138.76,"y":42},{"b":"g2","x":138.72,"y":37},
{"b":"h","x":138.38,"y":37},{"b":"h","x":138.34,"y":42},{"b":"h","x":138.26,"y":44},{"b":"h","x":137.98,"y":44},{"b":"h","x":137.9,"y":46},{"b":"h","x":137.86,"y":55},{"b":"h","x":137.82,"y":46},{"b":"h","x":137.74,"y":44},{"b":"h","x":137.48,"y":44},{"b":"h","x":137.4,"y":42},{"b":"h","x":137.36,"y":37},
{"b":"c","x":135.66,"y":37},{"b":"c","x":135.62,"y":42},{"b":"c","x":135.54,"y":44},{"b":"c","x":135.1,"y":44},{"b":"c","x":135.02,"y":46},{"b":"c","x":134.98,"y":55},{"b":"c","x":134.94,"y":46},{"b":"c","x":134.86,"y":44},{"b":"c","x":134.4,"y":44},{"b":"c","x":134.32,"y":42},{"b":"c","x":134.28,"y":37}
]},
"mark": {"type": "line", "interpolate": "monotone", "strokeWidth": 3.2, "color": "black", "strokeCap": "round"},
"encoding": {
"x": {"field": "x", "type": "quantitative", "scale": {"domain": [150, 133], "nice": false, "zero": false}, "axis": null},
"y": {"field": "y", "type": "quantitative", "scale": {"domain": [-16, 195], "nice": false, "zero": false}, "axis": null},
"detail": {"field": "b"},
"order": {"field": "x", "sort": "descending"}
}},
{"data": {"values": [
{"t":"S Phenolic Units","x":143.56,"y":74},
{"t":"G Phenolic Units","x":140.7,"y":74},
{"t":"H Phenolic Units","x":137.5,"y":74},
{"t":"Carboxylic Acid","x":134.52,"y":74}
]},
"mark": {"type": "text", "fontSize": 19, "align": "center", "baseline": "alphabetic", "color": "black", "font": "Liberation Serif"},
"encoding": {
"x": {"field": "x", "type": "quantitative", "scale": {"domain": [150, 133], "nice": false, "zero": false}, "axis": null},
"y": {"field": "y", "type": "quantitative", "scale": {"domain": [-16, 195], "nice": false, "zero": false}, "axis": null},
"text": {"field": "t"}
}},
{"data": {"values": [{"t":"SREL","x":139.7,"y":144}]},
"mark": {"type": "text", "fontSize": 29, "fontWeight": "bold", "align": "left", "baseline": "alphabetic", "color": "black", "font": "Liberation Serif"},
"encoding": {
"x": {"field": "x", "type": "quantitative", "scale": {"domain": [150, 133], "nice": false, "zero": false}, "axis": null},
"y": {"field": "y", "type": "quantitative", "scale": {"domain": [-16, 195], "nice": false, "zero": false}, "axis": null},
"text": {"field": "t"}
}},
{"data": {"values": [{"t":"2","x":138.18,"y":144}]},
"mark": {"type": "text", "fontSize": 17, "fontWeight": "bold", "align": "left", "baseline": "alphabetic", "dy": 2, "color": "black", "font": "Liberation Serif"},
"encoding": {
"x": {"field": "x", "type": "quantitative", "scale": {"domain": [150, 133], "nice": false, "zero": false}, "axis": null},
"y": {"field": "y", "type": "quantitative", "scale": {"domain": [-16, 195], "nice": false, "zero": false}, "axis": null},
"text": {"field": "t"}
}}
]
},
{
"width": 850, "height": 192,
"layer": [
{"data": {"name": "srel4"},
"mark": {"type": "line", "strokeWidth": 1, "color": "black", "clip": true},
"encoding": {
"x": {"field": "x", "type": "quantitative", "scale": {"domain": [150, 133], "nice": false, "zero": false}, "axis": null},
"y": {"field": "y", "type": "quantitative", "scale": {"domain": [-6, 186], "nice": false, "zero": false}, "axis": null}
}},
{"data": {"values": [{"t":"SREL","x":139.7,"y":77}]},
"mark": {"type": "text", "fontSize": 29, "fontWeight": "bold", "align": "left", "baseline": "alphabetic", "color": "black", "font": "Liberation Serif"},
"encoding": {
"x": {"field": "x", "type": "quantitative", "scale": {"domain": [150, 133], "nice": false, "zero": false}, "axis": null},
"y": {"field": "y", "type": "quantitative", "scale": {"domain": [-6, 186], "nice": false, "zero": false}, "axis": null},
"text": {"field": "t"}
}},
{"data": {"values": [{"t":"4","x":138.18,"y":77}]},
"mark": {"type": "text", "fontSize": 17, "fontWeight": "bold", "align": "left", "baseline": "alphabetic", "dy": 2, "color": "black", "font": "Liberation Serif"},
"encoding": {
"x": {"field": "x", "type": "quantitative", "scale": {"domain": [150, 133], "nice": false, "zero": false}, "axis": null},
"y": {"field": "y", "type": "quantitative", "scale": {"domain": [-6, 186], "nice": false, "zero": false}, "axis": null},
"text": {"field": "t"}
}}
]
},
{
"width": 850, "height": 182,
"layer": [
{"data": {"name": "srel8"},
"mark": {"type": "line", "strokeWidth": 1, "color": "black", "clip": true},
"encoding": {
"x": {"field": "x", "type": "quantitative", "scale": {"domain": [150, 133], "nice": false, "zero": false}, "axis": null},
"y": {"field": "y", "type": "quantitative", "scale": {"domain": [-14, 168], "nice": false, "zero": false}, "axis": null}
}},
{"data": {"values": [{"t":"SREL","x":139.7,"y":40}]},
"mark": {"type": "text", "fontSize": 29, "fontWeight": "bold", "align": "left", "baseline": "alphabetic", "color": "black", "font": "Liberation Serif"},
"encoding": {
"x": {"field": "x", "type": "quantitative", "scale": {"domain": [150, 133], "nice": false, "zero": false}, "axis": null},
"y": {"field": "y", "type": "quantitative", "scale": {"domain": [-14, 168], "nice": false, "zero": false}, "axis": null},
"text": {"field": "t"}
}},
{"data": {"values": [{"t":"8","x":138.18,"y":40}]},
"mark": {"type": "text", "fontSize": 17, "fontWeight": "bold", "align": "left", "baseline": "alphabetic", "dy": 2, "color": "black", "font": "Liberation Serif"},
"encoding": {
"x": {"field": "x", "type": "quantitative", "scale": {"domain": [150, 133], "nice": false, "zero": false}, "axis": null},
"y": {"field": "y", "type": "quantitative", "scale": {"domain": [-14, 168], "nice": false, "zero": false}, "axis": null},
"text": {"field": "t"}
}}
]
},
{
"width": 850, "height": 440,
"encoding": {
"x": {"field": "x", "type": "quantitative", "scale": {"domain": [150, 133], "nice": false, "zero": false},
"axis": {
"values": [150,149.9,149.8,149.7,149.6,149.5,149.4,149.3,149.2,149.1,149,148.9,148.8,148.7,148.6,148.5,148.4,148.3,148.2,148.1,148,147.9,147.8,147.7,147.6,147.5,147.4,147.3,147.2,147.1,147,146.9,146.8,146.7,146.6,146.5,146.4,146.3,146.2,146.1,146,145.9,145.8,145.7,145.6,145.5,145.4,145.3,145.2,145.1,145,144.9,144.8,144.7,144.6,144.5,144.4,144.3,144.2,144.1,144,143.9,143.8,143.7,143.6,143.5,143.4,143.3,143.2,143.1,143,142.9,142.8,142.7,142.6,142.5,142.4,142.3,142.2,142.1,142,141.9,141.8,141.7,141.6,141.5,141.4,141.3,141.2,141.1,141,140.9,140.8,140.7,140.6,140.5,140.4,140.3,140.2,140.1,140,139.9,139.8,139.7,139.6,139.5,139.4,139.3,139.2,139.1,139,138.9,138.8,138.7,138.6,138.5,138.4,138.3,138.2,138.1,138,137.9,137.8,137.7,137.6,137.5,137.4,137.3,137.2,137.1,137,136.9,136.8,136.7,136.6,136.5,136.4,136.3,136.2,136.1,136,135.9,135.8,135.7,135.6,135.5,135.4,135.3,135.2,135.1,135,134.9,134.8,134.7,134.6,134.5,134.4,134.3,134.2,134.1,134,133.9,133.8,133.7,133.6,133.5,133.4,133.3,133.2,133.1,133],
"tickSize": {"condition": {"test": "abs(datum.value - round(datum.value)) < 0.01", "value": 5}, "value": 2.5},
"labelExpr": "(abs(datum.value - round(datum.value)) > 0.01 || datum.value > 149.5 || datum.value < 134.5) ? '' : (round(datum.value) >= 138 ? '' + round(datum.value) : '' + (round(datum.value) + 1))",
"labelFont": "Liberation Serif", "labelFontWeight": "bold", "labelFontSize": 21, "labelColor": "black",
"labelPadding": 10, "labelOverlap": false, "labelFlush": false,
"domainColor": "#333", "tickColor": "#333", "grid": false,
"title": "ppm", "titleFont": "Liberation Serif", "titleFontWeight": "bold", "titleFontSize": 21, "titleColor": "black",
"titleX": 839, "titleY": 31, "titleAlign": "center", "titleBaseline": "alphabetic", "titleAngle": 0
}},
"y": {"field": "y", "type": "quantitative", "scale": {"domain": [-27, 413], "nice": false, "zero": false}, "axis": null}
},
"layer": [
{"data": {"name": "cel"},
"mark": {"type": "line", "strokeWidth": 1, "color": "black", "clip": true}},
{"data": {"values": [{"t":"CEL","x":139.64,"y":189}]},
"mark": {"type": "text", "fontSize": 31, "fontWeight": "bold", "align": "left", "baseline": "alphabetic", "color": "black", "font": "Liberation Serif"},
"encoding": {"text": {"field": "t"}}}
]
}
]
}
